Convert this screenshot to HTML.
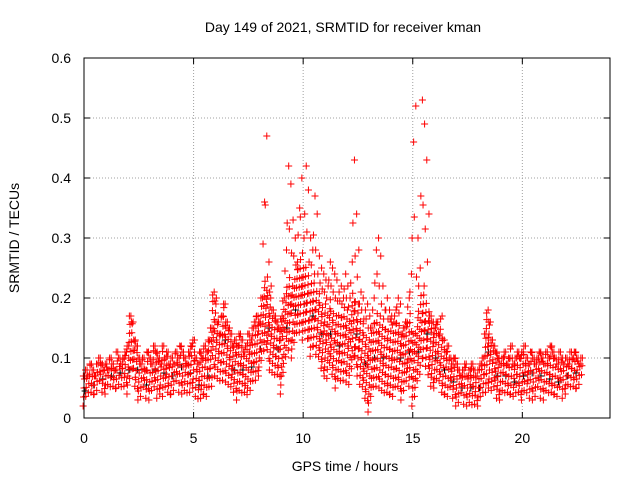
<!DOCTYPE html>
<html><head><meta charset="utf-8"><style>
body{margin:0;background:#fff;}
svg{display:block;font-family:"Liberation Sans",sans-serif;}
</style></head><body>
<svg id="chart" width="640" height="480" viewBox="0 0 640 480">
<rect width="640" height="480" fill="#fff"/>
<text x="343" y="32" font-size="14" text-anchor="middle">Day 149 of 2021, SRMTID for receiver kman</text>
<text x="345" y="471" font-size="14" text-anchor="middle">GPS time / hours</text>
<text x="19" y="238" font-size="14" text-anchor="middle" transform="rotate(-90 19 238)">SRMTID / TECUs</text>
<g id="grid"></g>
<g id="marks"></g>
<rect x="84" y="58" width="526" height="360" fill="none" stroke="#000" stroke-width="1"/>
</svg>
<script>
const xTicks=[0,5,10,15,20];
const yTicks=[0,0.1,0.2,0.3,0.4,0.5,0.6];
const yTickLabels=["0","0.1","0.2","0.3","0.4","0.5","0.6"];
const tStart=0, tStep=0.1;
const hiVals=[.07,.08,.07,.09,.08,.07,.09,.10,.09,.08,
.09,.08,.10,.09,.08,.11,.10,.09,.10,.11,
.12,.17,.16,.13,.12,.10,.09,.10,.08,.11,
.10,.09,.12,.11,.10,.09,.12,.10,.11,.09,
.10,.09,.11,.10,.12,.11,.10,.09,.11,.12,
.13,.10,.09,.11,.10,.12,.11,.13,.15,.21,
.20,.16,.14,.17,.19,.16,.15,.14,.12,.13,
.12,.14,.13,.11,.12,.14,.13,.15,.16,.17,
.16,.20,.36,.47,.26,.22,.18,.17,.16,.15,
.17,.20,.28,.42,.39,.33,.30,.26,.35,.40,
.30,.42,.38,.30,.28,.37,.34,.27,.25,.24,
.23,.22,.26,.25,.24,.23,.21,.22,.20,.24,
.22,.20,.26,.43,.34,.28,.21,.20,.18,.19,
.17,.15,.20,.28,.30,.27,.22,.18,.20,.18,
.17,.16,.18,.20,.19,.14,.15,.16,.20,.24,
.46,.52,.30,.25,.53,.49,.43,.34,.17,.16,
.15,.16,.14,.17,.13,.11,.12,.10,.09,.10,
.09,.08,.07,.08,.09,.07,.08,.09,.08,.07,
.08,.09,.10,.14,.18,.16,.13,.12,.11,.10,
.09,.10,.11,.09,.10,.12,.09,.10,.11,.10,
.11,.12,.10,.09,.11,.10,.09,.10,.11,.10,
.09,.11,.10,.12,.11,.10,.09,.11,.10,.09,
.10,.09,.11,.10,.11,.10,.09,.10];
const loVals=[.02,.03,.03,.04,.03,.04,.04,.05,.04,.04,
.04,.05,.04,.05,.04,.05,.05,.04,.05,.05,
.04,.06,.07,.05,.04,.03,.03,.04,.03,.04,
.03,.04,.04,.03,.04,.04,.03,.04,.04,.03,
.04,.04,.05,.04,.05,.04,.04,.03,.04,.05,
.05,.03,.02,.03,.03,.04,.03,.04,.05,.08,
.07,.06,.05,.06,.07,.06,.05,.04,.04,.04,
.03,.04,.03,.04,.03,.05,.04,.05,.06,.07,
.07,.09,.10,.12,.09,.08,.07,.06,.07,.06,
.04,.07,.09,.11,.12,.10,.12,.13,.14,.15,
.13,.14,.12,.10,.11,.12,.10,.09,.08,.07,
.07,.06,.08,.07,.06,.05,.06,.05,.06,.07,
.06,.05,.07,.10,.08,.07,.05,.04,.03,.02,
.01,.03,.04,.05,.06,.05,.04,.03,.04,.03,
.04,.03,.04,.05,.04,.03,.04,.05,.05,.06,
.02,.03,.05,.07,.09,.10,.08,.06,.05,.05,
.05,.06,.05,.04,.03,.04,.03,.04,.03,.03,
.02,.02,.03,.02,.03,.02,.02,.01,.02,.02,
.02,.03,.03,.04,.05,.05,.04,.04,.03,.03,
.03,.04,.03,.04,.03,.04,.03,.03,.04,.03,
.03,.04,.03,.03,.04,.03,.03,.04,.03,.04,
.03,.04,.03,.04,.03,.04,.03,.04,.03,.04,
.04,.05,.04,.05,.04,.05,.05,.06];

const X0=84,X1=610,Y0=418,Y1=58,xMax=24,yMax=0.6;
function xs(t){return X0+(t/xMax)*(X1-X0);}
function ys(v){return Y0-(v/yMax)*(Y0-Y1);}
const NS="http://www.w3.org/2000/svg";
const grid=document.getElementById('grid');
const svg=document.getElementById('chart');
function line(p,x1,y1,x2,y2,st,extra){const l=document.createElementNS(NS,'line');l.setAttribute('x1',x1);l.setAttribute('y1',y1);l.setAttribute('x2',x2);l.setAttribute('y2',y2);l.setAttribute('stroke',st);if(extra)l.setAttribute('stroke-dasharray',extra);p.appendChild(l);return l;}
xTicks.forEach(t=>{
  const x=xs(t);
  const g=line(grid,x,Y1,x,Y0,'#a0a0a0','1,2');
  
  
  line(grid,x,Y0,x,Y0-6,'#000');line(grid,x,Y1,x,Y1+6,'#000');
  const tx=document.createElementNS(NS,'text');
  
  
  tx.setAttribute('x',x);tx.setAttribute('y',443);tx.setAttribute('font-size','14');tx.setAttribute('text-anchor','middle');tx.textContent=t;svg.appendChild(tx);
});
yTicks.forEach((v,i)=>{
  const y=ys(v);
  const g=line(grid,X0,y,X1,y,'#a0a0a0','1,2');
  
  
  line(grid,X0,y,X0+6,y,'#000');line(grid,X1,y,X1-6,y,'#000');
  const tx=document.createElementNS(NS,'text');
  
  
  tx.setAttribute('x',71);tx.setAttribute('y',y+5);tx.setAttribute('font-size','14');tx.setAttribute('text-anchor','end');tx.textContent=yTickLabels[i];svg.appendChild(tx);
});
const marks=document.getElementById('marks');
let d='';
function plus(t,v){const x=xs(t),y=ys(v);d+='M'+(x-3.5)+' '+y+'h7M'+x+' '+(y-3.5)+'v7';}
let dk='';
function plusK(t,v){const x=xs(t),y=ys(v);dk+='M'+(x-3.5)+' '+y+'h7M'+x+' '+(y-3.5)+'v7';}
for(let i=0;i<hiVals.length;i++){
  const t=tStart+i*tStep, lo=loVals[i], hi=hiVals[i];
  const top=Math.min(hi,lo+0.12);
  const off=((i*7)%5)*0.003;
  for(let v=lo+off,k=0;v<=top+1e-9;v+=0.015,k++){plus(t+(((k+i)%5)-2)*0.02,v);}
  plus(t+0.04,hi);plus(t-0.03,(hi+top)/2);
  if(i%4===0)plusK(t+0.05,(lo+top)/2);
}
const pk=document.createElementNS(NS,'path');


pk.setAttribute('d',dk);pk.setAttribute('stroke','#000');pk.setAttribute('stroke-width','1');pk.setAttribute('fill','none');
marks.appendChild(pk);
const p=document.createElementNS(NS,'path');


p.setAttribute('d',d);p.setAttribute('stroke','#ff0000');p.setAttribute('stroke-width','1');p.setAttribute('fill','none');
marks.appendChild(p);
</script>
</body></html>
